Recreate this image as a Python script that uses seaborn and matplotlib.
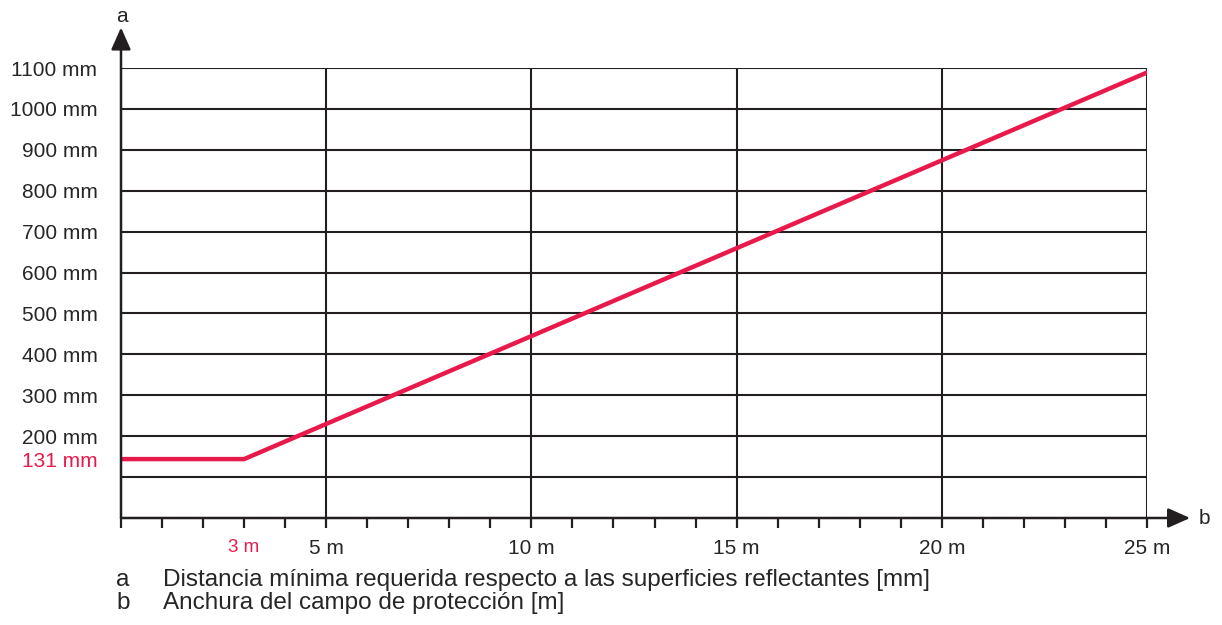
import matplotlib
matplotlib.use("Agg")
import matplotlib.pyplot as plt
import seaborn as sns
import pandas as pd

# datos
ancho_m = [0, 3, 25]              # b, anchura del campo de protección [m]
dist_mm = [144, 144, 1089]        # a, distancia mínima (posición dibujada)
ytick_vals = [200, 300, 400, 500, 600, 700, 800, 900, 1000, 1100]
ygrid_vals = [100, 200, 300, 400, 500, 600, 700, 800, 900, 1000, 1100]
xtick_vals = [5, 10, 15, 20, 25]
xminor_vals = list(range(0, 26))
flat_label = "131 mm"
flat_x_label = "3 m"
leyenda = [("a", "Distancia mínima requerida respecto a las superficies reflectantes [mm]"),
           ("b", "Anchura del campo de protección [m]")]

ROJO = "#e8194b"
NEGRO = "#231f20"

sns.set_style("white")
plt.rcParams["font.family"] = ["Liberation Sans", "DejaVu Sans"]
plt.rcParams["font.size"] = 15

fig = plt.figure(figsize=(12.22, 6.25), dpi=100)
ax = fig.add_axes([121/1222, 107/625, 1026/1222, 450/625])

# rejilla
ax.hlines(ygrid_vals, 0, 25, color=NEGRO, lw=1.5, zorder=1)
ax.vlines(xtick_vals, 0, 1100, color=NEGRO, lw=1.5, zorder=1)

df = pd.DataFrame({"b": ancho_m, "a": dist_mm})
sns.lineplot(data=df, x="b", y="a", color=ROJO, lw=3.2, ax=ax, zorder=3,
             solid_joinstyle="miter")

ax.set_xlim(0, 25)
ax.set_ylim(0, 1100)
ax.set_xlabel("")
ax.set_ylabel("")
for s in ["top", "right", "left", "bottom"]:
    ax.spines[s].set_visible(False)

# ejes con flecha
ax.annotate("", xy=(0, 1.09), xytext=(0, 0), xycoords="axes fraction",
            arrowprops=dict(arrowstyle="-|>,head_length=0.9,head_width=0.4",
                            color=NEGRO, lw=1.8, shrinkA=0, shrinkB=0),
            annotation_clip=False)
ax.annotate("", xy=(1.042, 0), xytext=(0, 0), xycoords="axes fraction",
            arrowprops=dict(arrowstyle="-|>,head_length=0.9,head_width=0.4",
                            color=NEGRO, lw=1.8, shrinkA=0, shrinkB=0),
            annotation_clip=False)
ax.text(0.001, 1.115, "a", transform=ax.transAxes, ha="center", va="center", fontsize=15)
ax.text(1.056, 0, "b", transform=ax.transAxes, ha="center", va="center", fontsize=15)

# ticks eje y
ax.set_yticks(ytick_vals + [dist_mm[0]])
ax.set_yticklabels([f"{v} mm" for v in ytick_vals] + [flat_label])
ax.get_yticklabels()[-1].set_color(ROJO)
ax.tick_params(axis="y", length=0, pad=17)

# ticks eje x
ax.set_xticks([ancho_m[1]] + xtick_vals)
ax.set_xticklabels([flat_x_label] + [f"{v} m" for v in xtick_vals])
ax.get_xticklabels()[0].set_color(ROJO)
ax.get_xticklabels()[0].set_fontsize(13.5)
ax.set_xticks(xminor_vals, minor=True)
ax.tick_params(axis="x", which="both", direction="out", length=7, width=1.6,
               color=NEGRO, pad=8, bottom=True)

# leyenda inferior
for i, (k, txt) in enumerate(leyenda):
    y = 1 - (580 + 23*i)/625
    fig.text(123/1222, y, k, ha="center", va="center", fontsize=17.5)
    fig.text(163/1222, y, txt, ha="left", va="center", fontsize=17.5)

fig.savefig("out.png", dpi=100)
